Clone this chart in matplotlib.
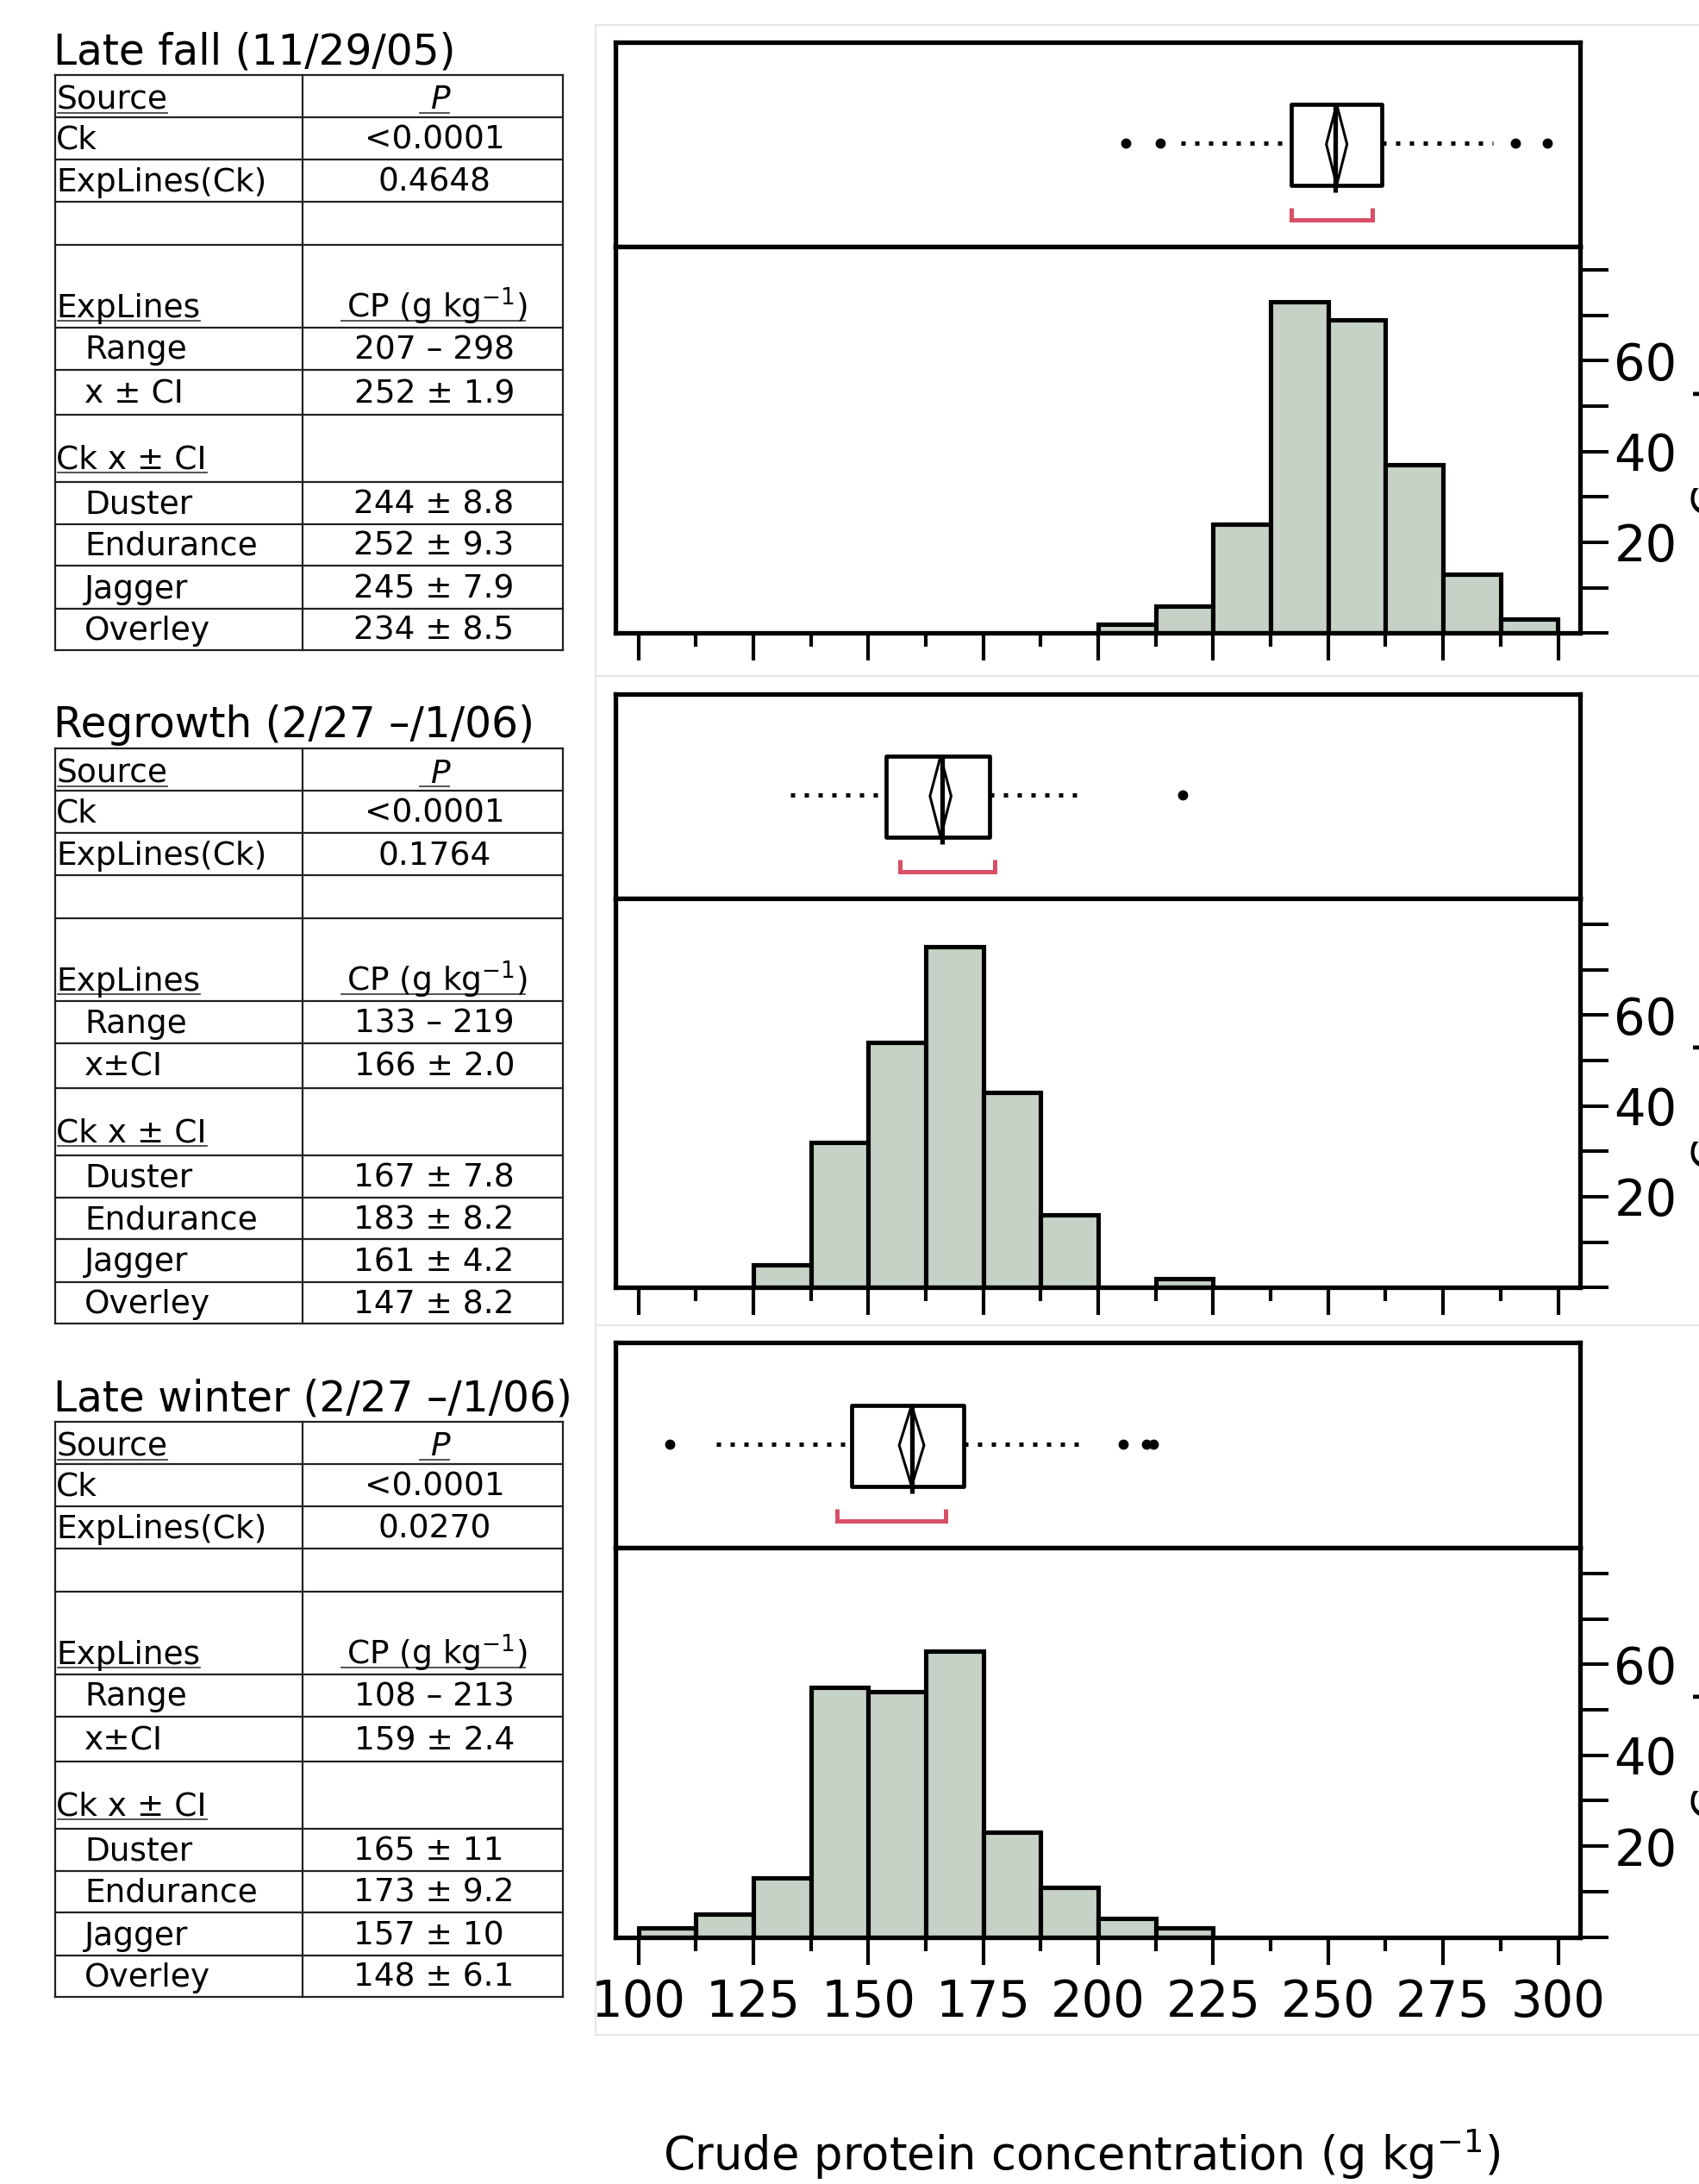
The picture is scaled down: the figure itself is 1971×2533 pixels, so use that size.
import numpy as np
import matplotlib
matplotlib.use("Agg")
import matplotlib.pyplot as plt
from matplotlib.patches import Rectangle, Polygon
from matplotlib.ticker import FixedLocator, FixedFormatter

W, H, DPI = 1971, 2533, 100

# ---------------- data ----------------
panel_names = ["Late fall", "Regrowth", "Late winter"]
bin_width = 12.5
hist_start = [200.0, 125.0, 100.0]
counts_late_fall = [2, 6, 24, 73, 69, 37, 13, 3]
counts_regrowth = [5, 32, 54, 75, 43, 16, 0, 2]
counts_late_winter = [2, 5, 13, 55, 54, 63, 23, 11, 4, 2]
hist_counts = [counts_late_fall, counts_regrowth, counts_late_winter]

x_ticks_major = [100, 125, 150, 175, 200, 225, 250, 275, 300]
x_ticks_minor = [112.5, 137.5, 162.5, 187.5, 212.5, 237.5, 262.5, 287.5]
y_ticks = [0, 10, 20, 30, 40, 50, 60, 70, 80]
y_tick_labels = ["", "", "20", "", "40", "", "60", "", ""]

# outlier box plot summaries
box_q1 = [242.0, 153.9, 146.3]
box_median = [251.6, 166.0, 159.4]
box_q3 = [261.6, 176.4, 170.7]
whisker_lo = [218.0, 133.0, 116.9]
whisker_hi = [285.8, 197.4, 197.2]
outliers = [[206.0, 213.5, 290.7, 297.6], [218.3], [106.8, 205.4, 210.5, 212.0]]
mean_center = [251.85, 165.7, 159.4]
mean_halfwidth = [2.25, 2.3, 2.7]
shortest_lo = [242.0, 156.9, 143.1]
shortest_hi = [259.6, 177.5, 166.8]

# tables
table_titles = ["Late fall (11/29/05)", "Regrowth (2/27 \u2013/1/06)", "Late winter (2/27 \u2013/1/06)"]
p_ck = ["<0.0001", "<0.0001", "<0.0001"]
p_explines = ["0.4648", "0.1764", "0.0270"]
cp_range = ["207 \u2013 298", "133 \u2013 219", "108 \u2013 213"]
cp_mean = ["252 \u00b1 1.9", "166 \u00b1 2.0", "159 \u00b1 2.4"]
mean_labels = ["x \u00b1 CI", "x\u00b1CI", "x\u00b1CI"]
cultivars = ["Duster", "Endurance", "Jagger", "Overley"]
ck_means = [["244 \u00b1 8.8", "252 \u00b1 9.3", "245 \u00b1 7.9", "234 \u00b1 8.5"],
            ["167 \u00b1 7.8", "183 \u00b1 8.2", "161 \u00b1 4.2", "147 \u00b1 8.2"],
            ["165 \u00b1 11", "173 \u00b1 9.2", "157 \u00b1 10", "148 \u00b1 6.1"]]

x_label = r"Crude protein concentration (g kg$^{-1}$)"
y_label = "Count"

# ---------------- layout (pixels) ----------------
fig = plt.figure(figsize=(W / DPI, H / DPI), dpi=DPI)
fig.patch.set_facecolor("white")

ov = fig.add_axes([0, 0, 1, 1])
ov.set_xlim(0, W)
ov.set_ylim(H, 0)
ov.axis("off")


def fr(x0, y0, x1, y1):
    return [x0 / W, 1 - y1 / H, (x1 - x0) / W, (y1 - y0) / H]


px_left, px_right = 714, 1833
x_px100, px_per_unit = 740.7, 5.334
xlo = 100 + (px_left - x_px100) / px_per_unit
xhi = 100 + (px_right - x_px100) / px_per_unit
px_per_count = 5.267
panel_top = [48.5, 804.6, 1557.4]
panel_div = [286.0, 1042.0, 1795.0]
panel_bot = [734.3, 1493.3, 2246.5]

# faint separators of the pasted panels
sep = "#e2e2e2"
ov.plot([691, 691], [29, 2360], color=sep, lw=1.2)
for yy in [29, 784, 1537, 2360]:
    ov.plot([691, W], [yy, yy], color=sep, lw=1.2)

frame_lw = 3.8
red = "#d94f66"
fill = "#c6d2c6"

for k in range(3):
    # ---- box plot section ----
    axb = fig.add_axes(fr(px_left, panel_top[k], px_right, panel_div[k]))
    axb.set_xlim(xlo, xhi)
    axb.set_ylim(0, 1)
    axb.set_xticks([])
    axb.set_yticks([])
    for s in axb.spines.values():
        s.set_linewidth(frame_lw)
    yc = 0.505
    axb.plot([whisker_lo[k], box_q1[k]], [yc, yc], color="black", lw=3.6,
             linestyle=(0, (1, 2.2)), dash_capstyle="butt")
    axb.plot([box_q3[k], whisker_hi[k]], [yc, yc], color="black", lw=3.6,
             linestyle=(0, (1, 2.2)), dash_capstyle="butt")
    axb.add_patch(Rectangle((box_q1[k], 0.30), box_q3[k] - box_q1[k], 0.395,
                            fill=False, edgecolor="black", lw=3.4, joinstyle="round"))
    axb.plot([box_median[k], box_median[k]], [0.265, 0.695], color="black", lw=3.8,
             solid_capstyle="butt")
    m, c = mean_center[k], mean_halfwidth[k]
    axb.add_patch(Polygon([[m - c, 0.5], [m, 0.695], [m + c, 0.5], [m, 0.30]], closed=True,
                          fill=False, edgecolor="black", lw=2.2))
    axb.plot(outliers[k], [yc] * len(outliers[k]), "o", ms=7.5, color="black")
    axb.plot([shortest_lo[k], shortest_lo[k], shortest_hi[k], shortest_hi[k]],
             [0.19, 0.13, 0.13, 0.19], color=red, lw=3.6,
             solid_joinstyle="miter", solid_capstyle="butt")

    # ---- histogram section ----
    axh = fig.add_axes(fr(px_left, panel_div[k], px_right, panel_bot[k]))
    cnt = hist_counts[k]
    edges = hist_start[k] + bin_width * np.arange(len(cnt))
    axh.bar(edges, cnt, width=bin_width, align="edge", color=fill,
            edgecolor="black", linewidth=3.7)
    axh.set_xlim(xlo, xhi)
    axh.set_ylim(0, (panel_bot[k] - panel_div[k]) / px_per_count)
    for s in axh.spines.values():
        s.set_linewidth(frame_lw)
    axh.xaxis.set_major_locator(FixedLocator(x_ticks_major))
    axh.xaxis.set_minor_locator(FixedLocator(x_ticks_minor))
    axh.tick_params(axis="x", which="major", length=23, width=3.0, direction="out",
                    labelsize=41.5, pad=11, labelbottom=(k == 2))
    axh.tick_params(axis="x", which="minor", length=11.5, width=3.0, direction="out")
    axh.yaxis.tick_right()
    axh.yaxis.set_major_locator(FixedLocator(y_ticks))
    axh.yaxis.set_major_formatter(FixedFormatter(y_tick_labels))
    axh.tick_params(axis="y", which="major", length=23.8, width=2.9, direction="out",
                    labelsize=41.5, pad=4.5, left=False, right=True,
                    labelleft=False, labelright=True)

    # panel title
    if k == 0:
        ov.text(755, panel_top[k] + 84.5, panel_names[k], ha="left", va="baseline",
                fontsize=43, fontweight="bold", family=["Liberation Sans", "DejaVu Sans"])
    else:
        xr = 1804 if k == 1 else 1791
        ov.text(xr, panel_top[k] + 84.5, panel_names[k], ha="right", va="baseline",
                fontsize=43, fontweight="bold", family=["Liberation Sans", "DejaVu Sans"])

    # Count label, cut off by the right edge as in the original
    ov.text(1999, (panel_div[k] + panel_bot[k]) / 2 + 8, y_label, rotation=90,
            rotation_mode="anchor", ha="center", va="baseline", fontsize=38)

# x axis label
ov.text(1255, 2517, x_label, ha="center", va="baseline", fontsize=38)

# ---------------- tables ----------------
tbl_left, tbl_mid, tbl_right = 64, 351, 653
row_lines = [87, 136, 184.5, 234, 283.5, 380, 428.5, 481, 558.5, 607.5, 656, 705.5, 754]
tbl_step = 781
line_c = "#222222"
tfs = 27
renderer = fig.canvas.get_renderer()


def underline(t, yb):
    bb = t.get_window_extent(renderer)
    ov.plot([bb.x0 + 2, bb.x1], [yb + 4, yb + 4], color="#444444", lw=1.3)


for k in range(3):
    off = k * tbl_step
    ov.text(62, 74.3 + off, table_titles[k], ha="left", va="baseline", fontsize=35)
    ys = [y + off for y in row_lines]
    for y in ys:
        ov.plot([tbl_left, tbl_right], [y, y], color=line_c, lw=1.6)
    for x in [tbl_left, tbl_mid, tbl_right]:
        ov.plot([x, x], [ys[0], ys[-1]], color=line_c, lw=1.6)

    def base(i):
        return ys[i + 1] - (9.5 if i == 0 else 12)

    t = ov.text(65, base(0), "Source", ha="left", va="baseline", fontsize=tfs)
    underline(t, base(0))
    ov.text(511, base(0), "P", ha="center", va="baseline", fontsize=tfs, style="italic")
    ov.plot([487, 521], [base(0) + 4, base(0) + 4], color="#444444", lw=1.3)

    ov.text(65, base(1), "Ck", ha="left", va="baseline", fontsize=tfs)
    ov.text(504, base(1), p_ck[k], ha="center", va="baseline", fontsize=tfs)
    ov.text(65, base(2), "ExpLines(Ck)", ha="left", va="baseline", fontsize=tfs)
    ov.text(504, base(2), p_explines[k], ha="center", va="baseline", fontsize=tfs)

    t = ov.text(65, base(4), "ExpLines", ha="left", va="baseline", fontsize=tfs)
    underline(t, base(4))
    ov.text(507, base(4), r"CP (g kg$^{-1}$)", ha="center", va="baseline", fontsize=tfs)
    ov.plot([396, 609], [base(4) + 4, base(4) + 4], color="#444444", lw=1.3)

    ov.text(98, base(5), "Range", ha="left", va="baseline", fontsize=tfs)
    ov.text(504, base(5), cp_range[k], ha="center", va="baseline", fontsize=tfs)
    ov.text(98, base(6) - 2, mean_labels[k], ha="left", va="baseline", fontsize=tfs)
    ov.text(504, base(6) - 2, cp_mean[k], ha="center", va="baseline", fontsize=tfs)

    t = ov.text(65, base(7) - 3, "Ck x \u00b1 CI", ha="left", va="baseline", fontsize=tfs)
    underline(t, base(7) - 3)

    for j in range(4):
        ov.text(98, base(8 + j), cultivars[j], ha="left", va="baseline", fontsize=tfs)
        ov.text(410, base(8 + j), ck_means[k][j], ha="left", va="baseline", fontsize=tfs)

fig.savefig("out.png", dpi=DPI, facecolor="white")
